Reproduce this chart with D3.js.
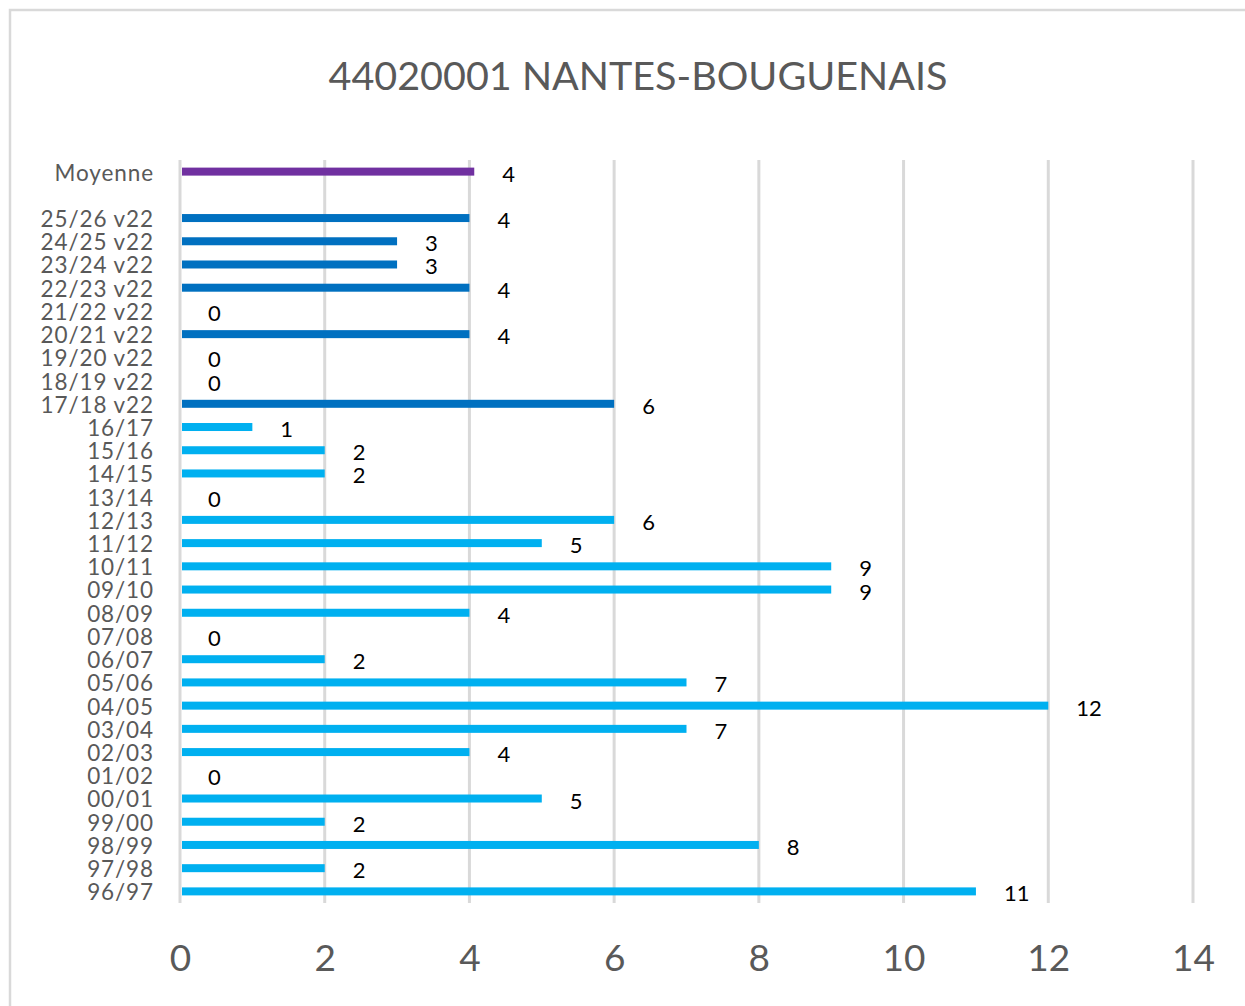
<!DOCTYPE html>
<html>
<head>
<meta charset="utf-8">
<script src="https://cdn.jsdelivr.net/npm/d3@7/dist/d3.min.js"></script>
<style>
  html, body { margin: 0; padding: 0; background: #fff; }
  svg { display: block; }
  text { font-family: Lato, "Open Sans", sans-serif; }
</style>
</head>
<body>
<svg id="chart" width="1245" height="1006"></svg>
<script>
// Seasons, oldest first (first block: historical series, second block: v22 series)
const histSeasons = ["96/97","97/98","98/99","99/00","00/01","01/02","02/03","03/04","04/05","05/06",
                     "06/07","07/08","08/09","09/10","10/11","11/12","12/13","13/14","14/15","15/16","16/17"];
const histValues  = [11, 2, 8, 2, 5, 0, 4, 7, 12, 7,
                     2, 0, 4, 9, 9, 5, 6, 0, 2, 2, 1];
const v22Seasons  = ["17/18 v22","18/19 v22","19/20 v22","20/21 v22","21/22 v22",
                     "22/23 v22","23/24 v22","24/25 v22","25/26 v22"];
const v22Values   = [6, 0, 0, 4, 0, 4, 3, 3, 4];
const meanLabel   = "Moyenne";
const xTicks      = [0, 2, 4, 6, 8, 10, 12, 14];
const chartTitle  = "44020001 NANTES-BOUGUENAIS";

const colors = { hist: "#00B0F0", v22: "#0070C0", mean: "#7030A0" };

const allValues = histValues.concat(v22Values);
const meanValue = d3.mean(allValues);

// Rows from top to bottom: mean, a spacer row, then newest to oldest
const rows = [{ key: meanLabel, label: meanLabel, value: meanValue, kind: "mean" },
              { key: "__gap", label: "", value: null, kind: "gap" }]
  .concat(v22Seasons.map((s, i) => ({ key: s, label: s, value: v22Values[i], kind: "v22" })).reverse())
  .concat(histSeasons.map((s, i) => ({ key: s, label: s, value: histValues[i], kind: "hist" })).reverse());

const svg = d3.select("#chart");

// Outer frame
svg.append("rect")
  .attr("x", 10).attr("y", 10).attr("width", 1260).attr("height", 1020)
  .attr("fill", "#fff").attr("stroke", "#d9d9d9").attr("stroke-width", 2.5);

const plot = { left: 180, right: 1193, top: 160, bottom: 903 };

const x = d3.scaleLinear().domain([0, 14]).range([plot.left, plot.right]);
const y = d3.scaleBand().domain(rows.map(r => r.key)).range([plot.top, plot.bottom]);
const barH = 8;

// Title
svg.append("text")
  .attr("x", 638).attr("y", 90)
  .attr("text-anchor", "middle")
  .attr("fill", "#595959")
  .attr("font-size", 39.5)
  .text(chartTitle);

// Vertical gridlines
svg.append("g").selectAll("line")
  .data(xTicks).join("line")
  .attr("x1", d => x(d)).attr("x2", d => x(d))
  .attr("y1", plot.top).attr("y2", plot.bottom)
  .attr("stroke", "#d9d9d9").attr("stroke-width", 3);

// X axis tick labels
const xAxis = d3.axisBottom(x).tickValues(xTicks).tickSize(0).tickPadding(0).tickFormat(d3.format("d"));
const gx = svg.append("g").attr("transform", `translate(0, 971)`).call(xAxis);
gx.select(".domain").remove();
gx.selectAll("text")
  .attr("dy", 0)
  .attr("fill", "#595959")
  .attr("font-size", 37)
  .attr("font-family", "Lato, 'Open Sans', sans-serif");

// Category labels
const yAxis = d3.axisLeft(y).tickSize(0).tickPadding(0).tickFormat(k => rows.find(r => r.key === k).label);
const gy = svg.append("g").attr("transform", `translate(154, 1.5)`).call(yAxis);
gy.select(".domain").remove();
gy.selectAll("text")
  .attr("dy", "0.33em")
  .attr("fill", "#595959")
  .attr("font-size", 22.5)
  .attr("letter-spacing", 0.9)
  .attr("font-family", "Lato, 'Open Sans', sans-serif");

const dataRows = rows.filter(r => r.kind !== "gap");

// Bars
svg.append("g").selectAll("rect")
  .data(dataRows.filter(r => r.value > 0)).join("rect")
  .attr("x", x(0) + 2)
  .attr("y", r => y(r.key) + y.bandwidth() / 2 - barH / 2)
  .attr("width", r => x(r.value) - x(0) - 2)
  .attr("height", barH)
  .attr("fill", r => colors[r.kind]);

// Value labels
svg.append("g").selectAll("text")
  .data(dataRows).join("text")
  .attr("x", r => x(r.value) + 28)
  .attr("y", r => y(r.key) + y.bandwidth() / 2 + 10)
  .attr("fill", "#000")
  .attr("font-size", 22)
  .text(r => d3.format(".0f")(r.value));
</script>
</body>
</html>
